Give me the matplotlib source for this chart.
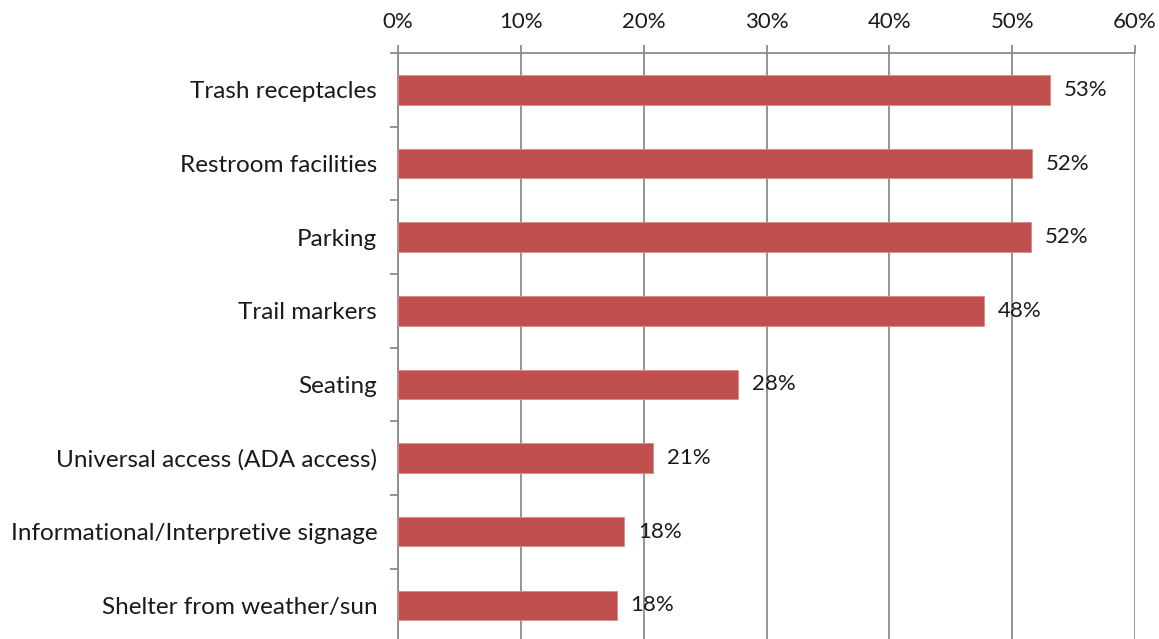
import matplotlib.pyplot as plt
from matplotlib.ticker import FuncFormatter, FixedLocator

# survey results, top to bottom
categories = ['Trash receptacles', 'Restroom facilities', 'Parking', 'Trail markers',
              'Seating', 'Universal access (ADA access)',
              'Informational/Interpretive signage', 'Shelter from weather/sun']
percent = [53.1, 51.6, 51.5, 47.7, 27.7, 20.8, 18.4, 17.8]

bar_color = '#C0504D'
grid_color = '#8C8C8C'

plt.rcParams['font.family'] = ['Lato', 'DejaVu Sans']

fig = plt.figure(figsize=(11.59, 6.39), dpi=100)
ax = fig.add_axes([0.3434, -0.005, 0.6359, 0.922])

n = len(categories)
ypos = list(range(n))
ax.barh(ypos, percent, height=0.4, color=bar_color, edgecolor='#D98A88', linewidth=0.6, zorder=3)

for y, v in zip(ypos, percent):
    ax.annotate(f'{v:.0f}%', (v, y), xytext=(10, 0), textcoords='offset points',
                va='center', ha='left', fontsize=16, color='#1a1a1a', zorder=4)

ax.set_xlim(0, 60)
ax.set_ylim(n - 0.5, -0.5)

ax.xaxis.tick_top()
ax.set_xticks(range(0, 61, 10))
ax.xaxis.set_major_formatter(FuncFormatter(lambda x, p: f'{x:.0f}%'))
ax.tick_params(axis='x', direction='out', length=6, width=1.3, color=grid_color,
               labelsize=16, pad=9, labelcolor='#1a1a1a')
ax.grid(axis='x', color=grid_color, linewidth=1.3, zorder=0)

# category labels in the middle, tick marks on the boundaries
ax.set_yticks(ypos)
ax.set_yticklabels(categories, fontsize=17.5, color='#1a1a1a')
ax.tick_params(axis='y', which='major', length=0, pad=15)
ax.yaxis.set_minor_locator(FixedLocator([i - 0.5 for i in range(n + 1)]))
ax.tick_params(axis='y', which='minor', direction='out', length=6, width=1.3, color=grid_color)

for side in ['right', 'bottom']:
    ax.spines[side].set_visible(False)
for side in ['top', 'left']:
    ax.spines[side].set_color(grid_color)
    ax.spines[side].set_linewidth(1.3)

fig.savefig('out.png', dpi=100)
